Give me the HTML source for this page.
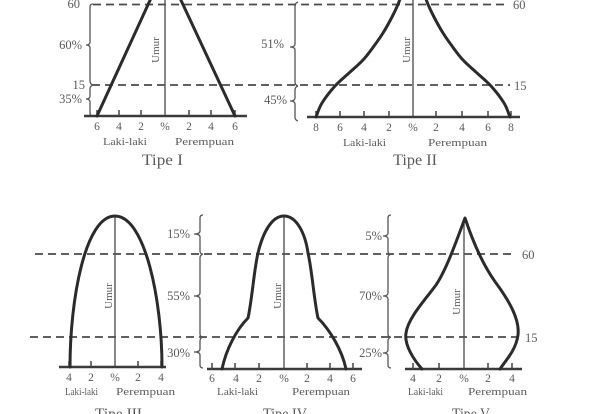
<!DOCTYPE html>
<html><head><meta charset="utf-8"><style>
html,body{margin:0;padding:0;background:#fff;}
svg{display:block;}
text{font-family:"Liberation Serif",serif;fill:#5a5a5a;}
</style></head><body>
<svg width="603" height="414" viewBox="0 0 603 414" xmlns="http://www.w3.org/2000/svg">
<rect width="603" height="414" fill="#fff"/>

<!-- dashed lines -->
<g stroke="#4a4a4a" stroke-width="1.8" stroke-dasharray="8,5" fill="none">
  <line x1="93" y1="4.5" x2="505" y2="4.5"/>
  <line x1="92" y1="85" x2="510" y2="85"/>
  <line x1="35" y1="254" x2="514" y2="254"/>
  <line x1="30" y1="337" x2="522" y2="337"/>
</g>

<!-- braces -->
<g stroke="#555" stroke-width="1.3" fill="none">
  <path d="M93,4 Q90,4 90,7 L90,42 Q90,45 86,45 Q90,45 90,48 L90,81 Q90,84 93,85"/>
  <path d="M93,85 Q90,86 90,89 L90,96 Q90,99 86,99 Q90,99 90,102 L90,113 Q90,116 93,116"/>
  <path d="M298,2 Q295,3 295,6 L295,44 Q295,47 290,47 Q295,47 295,50 L295,82 Q295,85 298,86"/>
  <path d="M298,86 Q295,87 295,90 L295,98 Q295,101 290,101 Q295,101 295,104 L295,117 Q295,120 298,121"/>
  <path d="M203,215 Q200,215 200,218 L200,231 Q200,234 194,234 Q200,234 200,237 L200,251 Q200,254 203,254"/>
  <path d="M203,254 Q200,255 200,258 L200,293 Q200,296 194,296 Q200,296 200,299 L200,334 Q200,337 203,337"/>
  <path d="M203,337 Q200,338 200,341 L200,349 Q200,352 194,352 Q200,352 200,355 L200,365 Q200,368 203,368"/>
  <path d="M391,215 Q388,215 388,218 L388,233 Q388,236 383,236 Q388,236 388,239 L388,251 Q388,254 391,254"/>
  <path d="M391,254 Q388,255 388,258 L388,293 Q388,296 383,296 Q388,296 388,299 L388,334 Q388,337 391,337"/>
  <path d="M391,337 Q388,338 388,341 L388,350 Q388,353 383,353 Q388,353 388,356 L388,365 Q388,368 391,368"/>
</g>

<!-- center lines -->
<g stroke="#555" stroke-width="1.4">
  <line x1="165" y1="0" x2="165" y2="116"/>
  <line x1="413" y1="0" x2="413" y2="117"/>
  <line x1="115" y1="216" x2="115" y2="367"/>
  <line x1="284" y1="216" x2="284" y2="369"/>
  <line x1="464" y1="219" x2="464" y2="369"/>
</g>

<!-- axes -->
<g stroke="#3a3a3a" stroke-width="2.4">
  <line x1="84" y1="116" x2="247" y2="116"/>
  <line x1="307" y1="117" x2="520" y2="117"/>
  <line x1="59" y1="367" x2="166" y2="367"/>
  <line x1="207" y1="369" x2="362" y2="369"/>
  <line x1="405" y1="369" x2="522" y2="369"/>
</g>

<!-- ticks -->
<g stroke="#444" stroke-width="1.5">
  <path d="M97,116v-6M119,116v-6M141,116v-6M189,116v-6M211,116v-6M235,116v-6"/>
  <path d="M316,117v-6M340,117v-6M364,117v-6M389,117v-6M436,117v-6M462,117v-6M488,117v-6M511,117v-6"/>
  <path d="M69,367v-6M91,367v-6M138,367v-6M161,367v-6"/>
  <path d="M212,369v-6M235,369v-6M259,369v-6M307,369v-6M330,369v-6M353,369v-6"/>
  <path d="M413,369v-6M439,369v-6M488,369v-6M512,369v-6"/>
</g>

<!-- curves -->
<g stroke="#2b2b2b" stroke-width="3" fill="none" stroke-linejoin="round" stroke-linecap="round">
  <path d="M97,116 L152,-4"/>
  <path d="M179,-4 L235,116"/>
  <path id="t2" d="M316,117 C317,114.7 318.8,108.2 322,103 C325.2,97.8 330.5,91 335,86 C339.5,81 344.3,77.3 349,73 C353.7,68.7 358.8,64.5 363,60 C367.2,55.5 370.7,50.5 374,46 C377.3,41.5 380,37.8 383,33 C386,28.2 389,22.8 392,17 C395,11.2 399.5,1.2 401,-4"/>
  <path transform="translate(826,0) scale(-1,1)" d="M316,117 C317,114.7 318.8,108.2 322,103 C325.2,97.8 330.5,91 335,86 C339.5,81 344.3,77.3 349,73 C353.7,68.7 358.8,64.5 363,60 C367.2,55.5 370.7,50.5 374,46 C377.3,41.5 380,37.8 383,33 C386,28.2 389,22.8 392,17 C395,11.2 399.5,1.2 401,-4"/>
  <path d="M70,367 C70,300 85,216 115,216 C145,216 162,300 162,367"/>
  <path d="M222,369 C226,350 236,330 248,318 C252,300 254,270 258,253 C263,232 272,216 284,216 C296,216 305,232 308,253 C312,270 314,300 318,318 C330,330 342,350 346,369"/>
  <path d="M422,369 C414,360 404,345 406,333 C408,318 425,300 436,285 C446,270 455,245 465,218 C474,245 485,268 496,283 C507,298 520,318 518,335 C516,350 506,360 500,369"/>
</g>

<!-- Umur labels -->
<g font-size="11">
  <text transform="translate(159,50) rotate(-90)" text-anchor="middle">Umur</text>
  <text transform="translate(410,50) rotate(-90)" text-anchor="middle">Umur</text>
  <text transform="translate(112,296) rotate(-90)" text-anchor="middle">Umur</text>
  <text transform="translate(281,296) rotate(-90)" text-anchor="middle">Umur</text>
  <text transform="translate(460,302) rotate(-90)" text-anchor="middle">Umur</text>
</g>

<!-- percent / age labels -->
<g font-size="12.5" text-anchor="end">
  <text x="80" y="8">60</text>
  <text x="82" y="49">60%</text>
  <text x="85" y="89">15</text>
  <text x="82" y="103">35%</text>
  <text x="284" y="48">51%</text>
  <text x="287" y="104">45%</text>
  <text x="190" y="238">15%</text>
  <text x="190" y="300">55%</text>
  <text x="190" y="357">30%</text>
  <text x="382" y="240">5%</text>
  <text x="382" y="300">70%</text>
  <text x="382" y="357">25%</text>
</g>
<g font-size="12.5">
  <text x="513" y="9">60</text>
  <text x="514" y="90">15</text>
  <text x="522" y="259">60</text>
  <text x="525" y="342">15</text>
</g>

<!-- tick labels -->
<g font-size="11.5" text-anchor="middle">
  <text x="97" y="130">6</text><text x="119" y="130">4</text><text x="141" y="130">2</text><text x="165" y="130">%</text><text x="189" y="130">2</text><text x="211" y="130">4</text><text x="235" y="130">6</text>
  <text x="316" y="131">8</text><text x="340" y="131">6</text><text x="364" y="131">4</text><text x="389" y="131">2</text><text x="413" y="131">%</text><text x="436" y="131">2</text><text x="462" y="131">4</text><text x="488" y="131">6</text><text x="511" y="131">8</text>
  <text x="69" y="381">4</text><text x="91" y="381">2</text><text x="115" y="381">%</text><text x="138" y="381">2</text><text x="161" y="381">4</text>
  <text x="212" y="382">6</text><text x="236" y="382">4</text><text x="259" y="382">2</text><text x="284" y="382">%</text><text x="307" y="382">2</text><text x="330" y="382">4</text><text x="353" y="382">6</text>
  <text x="413" y="382">4</text><text x="439" y="382">2</text><text x="464" y="382">%</text><text x="488" y="382">2</text><text x="512" y="382">4</text>
</g>

<!-- sex labels -->
<g font-size="11">
  <text x="103" y="145" textLength="44" lengthAdjust="spacingAndGlyphs">Laki-laki</text>
  <text x="175" y="145" textLength="59" lengthAdjust="spacingAndGlyphs">Perempuan</text>
  <text x="343" y="146" textLength="43" lengthAdjust="spacingAndGlyphs">Laki-laki</text>
  <text x="428" y="146" textLength="59" lengthAdjust="spacingAndGlyphs">Perempuan</text>
  <text x="65" y="395" textLength="33" lengthAdjust="spacingAndGlyphs">Laki-laki</text>
  <text x="116" y="395" textLength="59" lengthAdjust="spacingAndGlyphs">Perempuan</text>
  <text x="217" y="395" textLength="41" lengthAdjust="spacingAndGlyphs">Laki-laki</text>
  <text x="292" y="395" textLength="58" lengthAdjust="spacingAndGlyphs">Perempuan</text>
  <text x="408" y="395" textLength="35" lengthAdjust="spacingAndGlyphs">Laki-laki</text>
  <text x="468" y="395" textLength="59" lengthAdjust="spacingAndGlyphs">Perempuan</text>
</g>

<!-- titles -->
<g font-size="16" fill="#444">
  <text x="142" y="165" textLength="41" lengthAdjust="spacingAndGlyphs">Tipe I</text>
  <text x="393" y="165" textLength="44" lengthAdjust="spacingAndGlyphs">Tipe II</text>
  <text x="95" y="419" textLength="47" lengthAdjust="spacingAndGlyphs">Tipe III</text>
  <text x="263" y="419" textLength="44" lengthAdjust="spacingAndGlyphs">Tipe IV</text>
  <text x="452" y="419" textLength="38" lengthAdjust="spacingAndGlyphs">Tipe V</text>
</g>
</svg>
</body></html>
